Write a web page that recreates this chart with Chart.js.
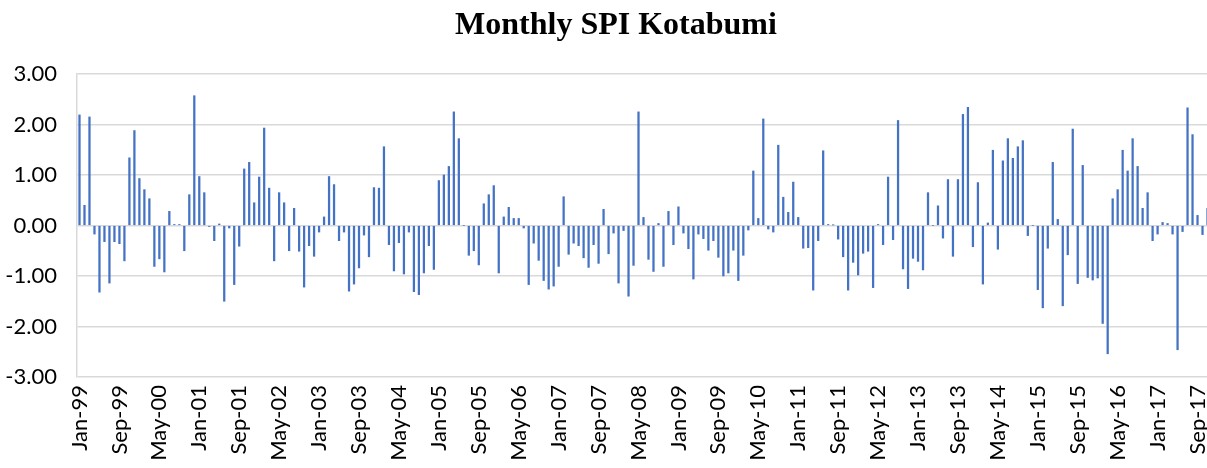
<!DOCTYPE html>
<html>
<head>
<meta charset="utf-8">
<script src="https://cdn.jsdelivr.net/npm/chart.js@4.4.1/dist/chart.umd.min.js"></script>
<style>
html,body{margin:0;padding:0;background:#fff;overflow:hidden;width:1207px;height:468px;}
#wrap{position:relative;width:1210px;height:468px;}
canvas{position:absolute;left:0;top:0;}
</style>
</head>
<body>
<div id="wrap"><canvas id="c" width="1210" height="468"></canvas></div>
<script>
// Monthly SPI values, Jan 1999 - Nov 2017
const spi1999 = [2.19, 0.40, 2.15, -0.17, -1.32, -0.32, -1.14, -0.32, -0.36, -0.70, 1.34, 1.88];
const spi2000 = [0.93, 0.71, 0.53, -0.81, -0.66, -0.92, 0.28, 0.02, 0.02, -0.50, 0.61, 2.57];
const spi2001 = [0.97, 0.65, -0.02, -0.30, 0.03, -1.50, -0.05, -1.17, -0.41, 1.12, 1.25, 0.45];
const spi2002 = [0.96, 1.93, 0.74, -0.70, 0.65, 0.45, -0.50, 0.34, -0.51, -1.22, -0.40, -0.61];
const spi2003 = [-0.13, 0.17, 0.97, 0.81, -0.30, -0.13, -1.30, -1.16, -0.84, -0.19, -0.62, 0.75];
const spi2004 = [0.74, 1.56, -0.38, -0.90, -0.34, -0.96, -0.13, -1.31, -1.37, -0.94, -0.40, -0.87];
const spi2005 = [0.89, 1.00, 1.17, 2.25, 1.72, 0.00, -0.59, -0.50, -0.78, 0.43, 0.61, 0.79];
const spi2006 = [-0.94, 0.17, 0.36, 0.14, 0.14, -0.05, -1.17, -0.35, -0.69, -1.09, -1.26, -1.20];
const spi2007 = [-0.81, 0.57, -0.57, -0.35, -0.40, -0.64, -0.83, -0.38, -0.75, 0.32, -0.56, -0.15];
const spi2008 = [-1.14, -0.10, -1.40, -0.79, 2.25, 0.16, -0.67, -0.91, 0.04, -0.81, 0.28, -0.38];
const spi2009 = [0.37, -0.15, -0.46, -1.06, -0.17, -0.26, -0.49, -0.30, -0.63, -1.00, -0.94, -0.49];
const spi2010 = [-1.09, -0.59, -0.09, 1.08, 0.14, 2.11, -0.07, -0.13, 1.59, 0.56, 0.26, 0.86];
const spi2011 = [0.16, -0.45, -0.44, -1.28, -0.30, 1.48, 0.02, 0.01, -0.27, -0.62, -1.28, -0.73];
const spi2012 = [-0.98, -0.55, -0.51, -1.23, 0.02, -0.38, 0.96, -0.28, 2.08, -0.86, -1.25, -0.65];
const spi2013 = [-0.71, -0.88, 0.65, 0.00, 0.39, -0.25, 0.91, -0.61, 0.91, 2.20, 2.34, -0.42];
const spi2014 = [0.85, -1.16, 0.05, 1.49, -0.47, 1.28, 1.72, 1.33, 1.56, 1.68, -0.20, 0.00];
const spi2015 = [-1.27, -1.63, -0.45, 1.25, 0.12, -1.59, -0.58, 1.91, -1.15, 1.19, -1.03, -1.08];
const spi2016 = [-1.04, -1.94, -2.54, 0.53, 0.71, 1.49, 1.08, 1.72, 1.17, 0.34, 0.65, -0.30];
const spi2017 = [-0.17, 0.06, 0.04, -0.17, -2.46, -0.12, 2.33, 1.80, 0.20, -0.18, 0.34];

const monthNames = ['Jan','Feb','Mar','Apr','May','Jun','Jul','Aug','Sep','Oct','Nov','Dec'];
const yearLabels = ['99','00','01','02','03','04','05','06','07','08','09','10','11','12','13','14','15','16','17'];
const yTickValues = [-3, -2, -1, 0, 1, 2, 3];
const chartTitle = 'Monthly SPI Kotabumi';

const spiValues = [].concat(spi1999, spi2000, spi2001, spi2002, spi2003, spi2004, spi2005,
  spi2006, spi2007, spi2008, spi2009, spi2010, spi2011, spi2012, spi2013, spi2014,
  spi2015, spi2016, spi2017);

const categories = [];
yearLabels.forEach(y => monthNames.forEach(m => categories.push(m + '-' + y)));
categories.length = spiValues.length;

const LABEL_STEP = 8;

// Title drawn slightly right of canvas centre, as in the original Excel chart
const titlePlugin = {
  id: 'customTitle',
  afterDraw(chart) {
    const ctx = chart.ctx;
    ctx.save();
    ctx.font = 'bold 32px "Liberation Serif", "Times New Roman", serif';
    ctx.fillStyle = '#000';
    ctx.textAlign = 'center';
    ctx.textBaseline = 'middle';
    ctx.fillText(chartTitle, 616, 26);
    ctx.restore();
  }
};

new Chart(document.getElementById('c'), {
  type: 'bar',
  data: {
    labels: categories,
    datasets: [{
      label: 'SPI',
      data: spiValues,
      backgroundColor: '#4472C4',
      borderWidth: 0,
      barThickness: 1.6
    }]
  },
  plugins: [titlePlugin],
  options: {
    responsive: false,
    animation: false,
    layout: { padding: { left: 0, right: 0, top: 74, bottom: 0 } },
    plugins: {
      legend: { display: false },
      tooltip: { enabled: false },
      title: { display: false }
    },
    scales: {
      x: {
        offset: true,
        grid: { display: false, drawTicks: false },
        border: { display: false },
        ticks: {
          autoSkip: false,
          minRotation: 90,
          maxRotation: 90,
          padding: 8,
          color: '#000',
          font: { family: 'Lato, "Open Sans", sans-serif', size: 22 },
          callback: function(v, i) { return i % LABEL_STEP === 0 ? categories[i] : ''; }
        },
        afterFit: function(s) { s.height = 91; s.paddingLeft = 0; s.paddingRight = 0; }
      },
      y: {
        min: -3,
        max: 3,
        afterBuildTicks: function(s) { s.ticks = yTickValues.map(v => ({ value: v })); },
        grid: { color: '#D9D9D9', lineWidth: 1.5, drawTicks: false },
        border: { display: true, color: '#D9D9D9', width: 1.5 },
        ticks: {
          padding: 20,
          color: '#000',
          font: { family: 'Lato, "Open Sans", sans-serif', size: 22 },
          callback: function(v) { return Number(v).toFixed(2); }
        },
        afterFit: function(s) { s.width = 77; s.paddingTop = 0; s.paddingBottom = 0; }
      }
    }
  }
});
</script>
</body>
</html>
